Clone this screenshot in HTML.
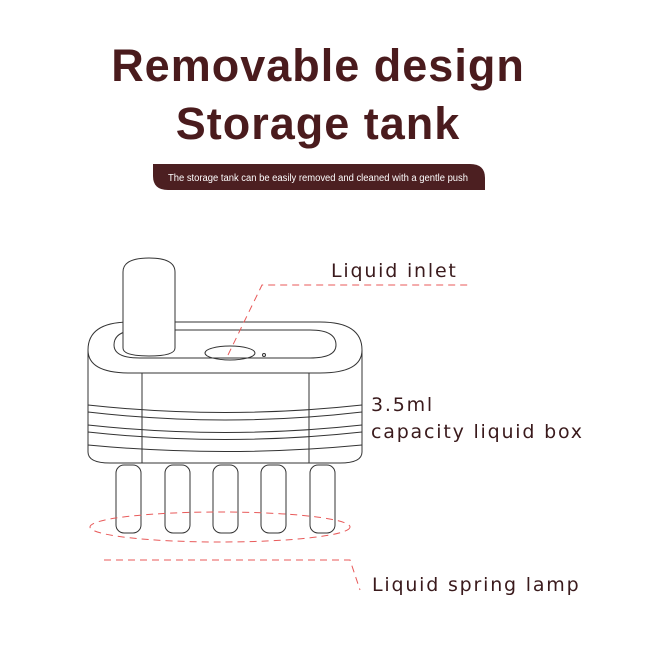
<!DOCTYPE html>
<html><head><style>
body{margin:0;width:660px;height:660px;background:#fff;position:relative;overflow:hidden;font-family:"Liberation Sans","DejaVu Sans",sans-serif;color:#4a1c1f}
.t{position:absolute;left:0;width:636px;text-align:center;font-size:45px;letter-spacing:1px;font-family:"Liberation Sans",sans-serif;font-weight:bold;color:#4a1b1d}
.l{position:absolute;font-size:19px;letter-spacing:1.8px;font-family:"DejaVu Sans",sans-serif;color:#3a1a1c}
</style></head><body>
<div class="t" style="top:40px">Removable design</div>
<div class="t" style="top:98px">Storage tank</div>
<svg width="660" height="660" style="position:absolute;left:0;top:0">
<path d="M153,164 H470 Q485,164 485,178 V190 H168 Q153,190 153,176 Z" fill="#4c1f21"/>
<text x="168" y="181" font-size="10" fill="#fff" textLength="300" lengthAdjust="spacingAndGlyphs" font-family="Liberation Sans Narrow, Liberation Sans, sans-serif">The storage tank can be easily removed and cleaned with a gentle push</text>
<g fill="none" stroke="#333" stroke-width="1">
<rect x="116" y="465" width="25" height="68" rx="8" fill="#fff"/>
<rect x="165" y="465" width="25" height="68" rx="8" fill="#fff"/>
<rect x="213" y="465" width="25" height="68" rx="8" fill="#fff"/>
<rect x="261" y="465" width="25" height="68" rx="8" fill="#fff"/>
<rect x="310" y="465" width="25" height="68" rx="8" fill="#fff"/>
<path d="M88,350 Q88,322 130,322 H320 Q362,322 362,350 V452 Q362,463 340,463 H110 Q88,463 88,452 Z" fill="#fff"/>
<path d="M88,350 Q88,373 130,373 H320 Q362,373 362,350"/>
<path d="M114,345 Q114,330 140,330 H310 Q336,330 336,345 Q336,358 310,358 H140 Q114,358 114,345 Z"/>
<line x1="142" y1="373" x2="142" y2="463"/><line x1="309" y1="373" x2="309" y2="463"/>
<path d="M88,405 Q225,420 362,405"/><path d="M88,412 Q225,428 362,412"/><path d="M88,425 Q225,440 362,425"/><path d="M88,432 Q225,447 362,432"/><path d="M88,445 Q225,458 362,445"/>
<ellipse cx="230" cy="353" rx="25" ry="7"/>
<circle cx="264" cy="355" r="1.5"/>
<path d="M123,348 V272 Q123,258 149,258 Q175,258 175,272 V348 Q175,356 149,356 Q123,356 123,348 Z" fill="#fff"/>
</g>
<g fill="none" stroke="#e85a5a" stroke-width="1" stroke-dasharray="7,5">
<path d="M228,355 L262,285 H470"/>
<ellipse cx="220" cy="527" rx="130" ry="15"/>
<path d="M104,560 H350 L360,590"/>
</g>
</svg>
<div class="l" style="left:331px;top:260px">Liquid inlet</div>
<div class="l" style="left:371px;top:394px">3.5ml</div>
<div class="l" style="left:371px;top:421px">capacity liquid box</div>
<div class="l" style="left:372px;top:574px">Liquid spring lamp</div>
</body></html>
